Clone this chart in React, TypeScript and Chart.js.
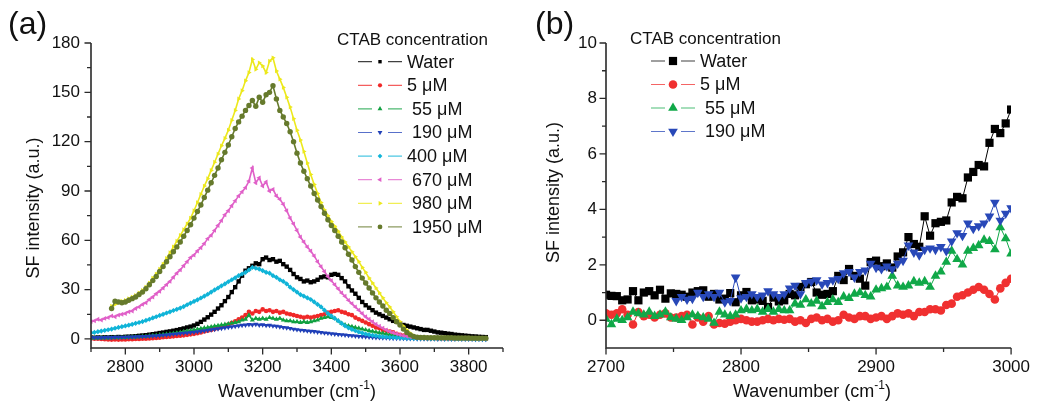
import React, { useEffect, useRef } from "react";
import { Chart, registerables } from "chart.js";

Chart.register(...registerables);

const FONT = '"Liberation Sans", Arial, Helvetica, sans-serif';

// ---------------- Panel (a) data ----------------
const waveA = [
  2700, 2710, 2720, 2730, 2740, 2750, 2760, 2770, 2780, 2790,
  2800, 2810, 2820, 2830, 2840, 2850, 2860, 2870, 2880, 2890,
  2900, 2910, 2920, 2930, 2940, 2950, 2960, 2970, 2980, 2990,
  3000, 3010, 3020, 3030, 3040, 3050, 3060, 3070, 3080, 3090,
  3100, 3110, 3120, 3130, 3140, 3150, 3160, 3170, 3180, 3190,
  3200, 3210, 3220, 3230, 3240, 3250, 3260, 3270, 3280, 3290,
  3300, 3310, 3320, 3330, 3340, 3350, 3360, 3370, 3380, 3390,
  3400, 3410, 3420, 3430, 3440, 3450, 3460, 3470, 3480, 3490,
  3500, 3510, 3520, 3530, 3540, 3550, 3560, 3570, 3580, 3590,
  3600, 3610, 3620, 3630, 3640, 3650, 3660, 3670, 3680, 3690,
  3700, 3710, 3720, 3730, 3740, 3750, 3760, 3770, 3780, 3790,
  3800, 3810, 3820, 3830, 3840, 3850,
];

const waterA = [
  0.8, 0.7, 0.9, 0.8, 1.0, 0.9, 1.1, 1.0, 1.2, 1.1,
  1.3, 1.4, 1.5, 1.7, 1.9, 2.1, 2.3, 2.6, 2.9, 3.2,
  3.6, 3.9, 4.3, 4.6, 5.0, 5.4, 5.9, 6.4, 7.0, 7.5,
  8.2, 9.2, 10.4, 11.8, 13.2, 14.8, 16.5, 18.5, 20.5, 23.0,
  25.5, 28.5, 31.5, 35.0, 38.5, 41.5, 43.0, 44.5, 46.0, 45.5,
  48.5, 49.5, 48.0, 48.5, 47.0, 47.5, 45.5, 44.0, 42.0, 39.5,
  37.5, 36.5, 35.0, 35.5, 34.5, 35.0, 36.0, 37.5, 38.0, 37.5,
  39.0, 39.5, 39.0, 37.0, 35.0, 32.0, 29.5, 27.5, 25.0, 22.5,
  20.5, 19.0, 17.5, 16.0, 15.0, 14.0, 13.0, 12.0, 11.0, 10.5,
  9.5, 8.5, 8.0, 7.5, 7.0, 6.5, 6.0, 5.5, 5.5, 5.0,
  4.5, 4.0, 3.8, 3.5, 3.2, 3.0, 2.6, 2.4, 2.2, 2.0,
  1.8, 1.6, 1.5, 1.3, 1.2, 1.1,
];

const c5A = [
  0.3, 0.2, 0.1, 0.0, -0.2, -0.3, -0.4, -0.3, -0.4, -0.3,
  -0.3, -0.2, -0.2, 0.0, 0.0, 0.1, 0.2, 0.3, 0.5, 0.6,
  0.8, 1.0, 1.2, 1.4, 1.6, 1.8, 2.0, 2.2, 2.5, 2.8,
  3.1, 3.5, 4.0, 4.5, 5.0, 5.5, 6.0, 6.6, 7.2, 8.0,
  8.8, 9.8, 10.8, 12.0, 13.0, 14.5, 16.5, 15.5, 17.0, 16.5,
  18.0, 17.0, 17.5, 16.5, 17.0, 16.0, 16.5, 15.5, 15.0, 14.5,
  14.0, 13.5, 13.0, 13.5, 13.0, 13.5, 14.0, 14.5, 15.0, 16.0,
  16.5, 17.0, 17.5, 16.5, 16.0, 15.0, 14.5, 13.0, 12.0, 11.0,
  10.0, 9.0, 8.0, 7.0, 6.5, 5.5, 5.0, 4.5, 4.0, 3.2,
  2.6, 2.0, 1.6, 1.2, 1.0, 0.8, 0.6, 0.5, 0.5, 0.4,
  0.4, 0.3, 0.3, 0.3, 0.2, 0.2, 0.2, 0.2, 0.1, 0.1,
  0.1, 0.1, 0.1, 0.0, 0.0, 0.0,
];

const c55A = [
  0.5, 0.6, 0.5, 0.6, 0.7, 0.6, 0.7, 0.8, 0.7, 0.8,
  0.9, 1.0, 1.1, 1.2, 1.3, 1.5, 1.6, 1.8, 2.0, 2.2,
  2.4, 2.6, 2.9, 3.1, 3.4, 3.7, 4.0, 4.4, 4.7, 5.1,
  5.5, 5.9, 6.3, 6.7, 7.0, 7.4, 7.8, 8.1, 8.5, 8.8,
  9.2, 9.6, 10.0, 10.4, 11.5, 12.0, 14.5, 11.5, 12.5, 12.0,
  12.5, 12.0, 13.0, 12.5, 12.0, 12.5, 11.5, 11.0, 11.0, 10.5,
  10.5, 10.0, 10.5, 10.0, 10.5, 11.0, 11.5, 12.5, 13.0, 13.5,
  13.0, 12.5, 11.0, 9.5, 8.5, 8.0, 7.5, 7.0, 6.5, 6.0,
  5.5, 5.0, 4.6, 4.2, 3.8, 3.5, 3.0, 2.6, 2.2, 1.9,
  1.6, 1.3, 1.1, 0.9, 0.7, 0.6, 0.5, 0.4, 0.4, 0.3,
  0.3, 0.3, 0.2, 0.2, 0.2, 0.2, 0.1, 0.1, 0.1, 0.1,
  0.1, 0.1, 0.0, 0.0, 0.0, 0.0,
];

const c190A = [
  0.8, 0.8, 0.9, 0.8, 0.9, 1.0, 0.9, 1.0, 1.1, 1.0,
  1.1, 1.2, 1.2, 1.3, 1.4, 1.5, 1.6, 1.7, 1.8, 1.9,
  2.1, 2.3, 2.5, 2.7, 2.9, 3.1, 3.3, 3.5, 3.7, 3.9,
  4.1, 4.4, 4.7, 5.0, 5.3, 5.6, 5.9, 6.2, 6.5, 6.8,
  7.1, 7.4, 7.7, 8.0, 8.3, 8.5, 8.8, 8.6, 8.9, 8.5,
  8.6, 8.2, 8.3, 7.9, 7.7, 7.4, 7.0, 6.8, 6.4, 6.0,
  5.7, 5.4, 5.2, 4.9, 4.7, 4.5, 4.2, 4.0, 3.7, 3.5,
  3.2, 3.0, 2.8, 2.6, 2.4, 2.2, 2.0, 1.8, 1.6, 1.5,
  1.3, 1.2, 1.0, 0.9, 0.8, 0.7, 0.6, 0.5, 0.4, 0.4,
  0.3, 0.3, 0.2, 0.2, 0.2, 0.1, 0.1, 0.1, 0.0, 0.0,
  0.0, -0.1, 0.0, -0.1, 0.0, -0.1, -0.1, 0.0, -0.1, -0.1,
  -0.1, -0.1, -0.2, -0.1, -0.2, -0.2,
];

const c400A = [
  3.8, 4.0, 4.4, 4.8, 5.2, 5.6, 6.0, 6.5, 7.0, 7.5,
  7.9, 8.4, 8.9, 9.5, 10.0, 10.6, 11.3, 12.0, 12.8, 13.5,
  14.3, 15.0, 15.8, 16.5, 17.3, 18.0, 18.8, 19.7, 20.8, 21.8,
  22.8, 23.8, 24.9, 26.0, 27.2, 28.5, 29.8, 31.0, 32.3, 33.5,
  34.8, 36.0, 37.2, 38.5, 39.5, 40.5, 42.0, 43.5, 43.0, 42.5,
  41.5, 40.5, 40.0, 38.5, 37.5, 36.0, 35.0, 33.5, 31.5, 30.0,
  28.5, 27.0, 26.0, 25.0, 24.0, 22.5, 21.0, 19.5, 17.5, 15.5,
  14.0, 12.5, 11.0, 9.5, 8.0, 6.8, 5.8, 5.0, 4.2, 3.6,
  3.0, 2.6, 2.2, 1.9, 1.6, 1.4, 1.2, 1.0, 0.9, 0.8,
  0.7, 0.6, 0.5, 0.5, 0.4, 0.4, 0.3, 0.3, 0.3, 0.2,
  0.2, 0.2, 0.2, 0.1, 0.1, 0.1, 0.1, 0.1, 0.0, 0.0,
  0.0, 0.0, -0.1, -0.1, -0.1, -0.1,
];

const c670A = [
  10.5, 11.0, 12.0, 11.5, 12.5, 13.0, 14.0, 13.5, 14.5, 15.0,
  15.5, 16.5, 17.0, 18.5, 19.5, 21.0, 22.0, 24.0, 25.5, 27.5,
  29.0, 31.0, 33.0, 35.0, 37.5, 40.0, 42.0, 44.5, 47.0, 49.5,
  51.0, 53.5, 55.5, 58.0, 61.0, 63.0, 66.0, 69.0, 72.0, 75.5,
  78.0, 81.0, 84.0, 87.0, 89.5, 92.0, 96.0, 104.0, 95.0, 98.0,
  93.0, 95.5, 90.0, 91.0, 87.0, 85.0, 82.0, 78.0, 73.5, 70.0,
  66.0, 62.0, 59.0, 56.0, 53.5, 50.5, 47.0, 44.0, 41.0, 38.0,
  35.5, 33.0, 30.5, 28.0, 26.0, 23.5, 21.5, 19.5, 17.5, 15.5,
  13.5, 12.0, 10.5, 9.0, 7.8, 6.6, 5.5, 4.6, 3.8, 3.1,
  2.5, 2.0, 1.6, 1.3, 1.1, 1.0, 0.9, 0.8, 0.8, 0.7,
  0.7, 0.6, 0.6, 0.6, 0.5, 0.5, 0.5, 0.5, 0.4, 0.4,
  0.4, 0.4, 0.3, 0.3, 0.3, 0.3,
];

const c980A = [
  null, null, null, null, null, null, 20.0, 21.0, 22.0, 23.0,
  23.5, 24.5, 25.5, 26.5, 28.0, 29.5, 31.5, 34.0, 37.0, 39.5,
  42.5, 45.5, 49.0, 52.5, 56.0, 59.5, 63.0, 66.5, 70.0, 73.5,
  78.0, 83.0, 88.0, 93.0, 97.5, 102.5, 107.5, 112.5, 117.5, 122.0,
  127.0, 133.0, 139.0, 146.0, 151.0, 157.0, 162.0, 170.0, 164.0, 168.0,
  166.0, 162.0, 169.0, 171.0, 163.0, 158.0, 153.0, 147.0, 141.0, 134.0,
  127.0, 121.0, 114.0, 107.0, 100.0, 94.0, 88.5, 83.0, 78.5, 75.0,
  71.5, 68.5, 65.5, 62.0, 59.0, 56.0, 53.0, 50.0, 47.0, 43.5,
  40.5, 37.0, 34.0, 31.0, 28.0, 25.0, 22.0, 19.5, 16.5, 13.5,
  10.5, 7.8, 5.5, 3.5, 2.0, 1.2, 1.0, 0.9, 0.8, 0.8,
  0.8, 0.7, 0.7, 0.7, 0.6, 0.6, 0.6, 0.6, 0.5, 0.5,
  0.5, 0.5, 0.5, 0.4, 0.4, 0.4,
];

const c1950A = [
  null, null, null, null, null, null, 18.5, 23.0, 22.5, 22.0,
  22.5, 23.5, 24.5, 25.5, 27.0, 28.5, 30.5, 33.0, 35.5, 38.0,
  41.0, 44.0, 47.0, 50.0, 53.0, 56.0, 59.0, 62.5, 66.0, 69.5,
  73.5, 77.5, 81.5, 86.0, 90.5, 95.0, 99.5, 104.0, 109.0, 113.5,
  118.0, 123.0, 128.0, 132.0, 135.5, 139.0, 142.0, 145.0, 141.5, 147.0,
  144.0, 148.5, 150.0, 154.0, 146.0, 139.0, 135.0, 131.0, 126.0, 120.0,
  113.0, 107.0, 102.0, 97.5, 93.0, 88.5, 84.5, 80.5, 76.5, 72.5,
  69.0, 66.0, 62.5, 59.0, 55.5, 51.5, 48.0, 44.0, 40.5, 37.0,
  34.0, 31.0, 28.0, 25.0, 22.5, 20.0, 17.5, 15.5, 13.0, 10.5,
  8.5, 6.0, 4.0, 2.5, 1.5, 1.0, 0.9, 0.9, 0.8, 0.8,
  0.8, 0.8, 0.7, 0.7, 0.7, 0.7, 0.6, 0.6, 0.6, 0.6,
  0.6, 0.5, 0.5, 0.5, 0.5, 0.5,
];

const labelsA = ["Water", "5 μM", " 55 μM", " 190 μM", "400 μM", " 670 μM", " 980 μM", " 1950 μM"];
const colorsA = ["#000000", "#F02828", "#10A040", "#2040B8", "#10B4D8", "#E060C8", "#ECE81C", "#667A2C"];
const stylesA = ["rect", "circle", "triangle", "triangle", "rectRot", "triangle", "triangle", "circle"];
const rotationsA = [0, 0, 0, 180, 0, -90, 90, 0];
const radiiA = [3.1, 2.3, 2.9, 2.9, 2.6, 2.8, 2.7, 2.7];
const legendRadiiA = [2.4, 2.1, 2.8, 2.8, 2.4, 2.8, 2.8, 2.4];

const xTicksA = [2800, 3000, 3200, 3400, 3600, 3800];
const xMinorA = [2700, 2900, 3100, 3300, 3500, 3700, 3900];
const yTicksA = [0, 30, 60, 90, 120, 150, 180];
const yMinorA = [15, 45, 75, 105, 135, 165];

// ---------------- Panel (b) data ----------------
const waveB = [
  2700, 2704, 2708, 2712, 2716, 2720, 2724, 2728, 2732, 2736,
  2740, 2744, 2748, 2752, 2756, 2760, 2764, 2768, 2772, 2776,
  2780, 2784, 2788, 2792, 2796, 2800, 2804, 2808, 2812, 2816,
  2820, 2824, 2828, 2832, 2836, 2840, 2844, 2848, 2852, 2856,
  2860, 2864, 2868, 2872, 2876, 2880, 2884, 2888, 2892, 2896,
  2900, 2904, 2908, 2912, 2916, 2920, 2924, 2928, 2932, 2936,
  2940, 2944, 2948, 2952, 2956, 2960, 2964, 2968, 2972, 2976,
  2980, 2984, 2988, 2992, 2996, 3000,
];

const waterB = [
  0.92, 0.88, 0.87, 0.72, 0.75, 1.05, 0.72, 1.0, 1.05, 0.9,
  1.1, 0.78, 0.97, 0.95, 0.92, 0.85, 1.0, 1.05, 1.08, 0.85,
  0.95, 0.75, 0.78, 0.98, 0.65, 0.9, 1.02, 0.72, 0.75, 0.7,
  0.48, 0.82, 0.68, 0.72, 0.95, 0.9, 1.2, 1.3, 1.38, 1.0,
  0.92, 0.95, 1.05, 1.6, 1.45, 1.85, 1.6, 1.5, 1.25, 2.1,
  2.15, 1.95, 2.05, 1.9, 2.3, 2.45, 3.0, 2.75, 2.65, 3.75,
  3.05, 3.5, 3.55, 3.6, 4.25, 4.45, 4.4, 5.15, 5.35, 5.6,
  5.55, 6.4, 6.9, 6.75, 7.1, 7.6,
];

const c5B = [
  0.25, 0.2, 0.25, 0.4, 0.2, -0.15, 0.3, 0.15, 0.2, 0.1,
  0.2, 0.25, 0.1, 0.1, 0.15, 0.2, -0.15, 0.1, -0.05, 0.15,
  -0.15, -0.1, -0.12, -0.05, 0.0, 0.05, 0.0, -0.05, -0.05, 0.0,
  0.05, 0.0, 0.05, 0.02, 0.05, -0.05, 0.0, -0.1, 0.05, 0.1,
  0.0, 0.05, -0.05, 0.0, 0.2, 0.1, 0.05, 0.15, 0.15, 0.05,
  0.1, 0.15, 0.05, 0.15, 0.25, 0.2, 0.25, 0.15, 0.3, 0.3,
  0.4, 0.4, 0.35, 0.55, 0.6, 0.85, 0.9, 1.0, 1.1, 1.2,
  1.1, 0.95, 0.75, 1.15, 1.35, 1.5,
];

const c55B = [
  0.05, -0.15, 0.05, 0.0, 0.1, 0.3, 0.25, 0.2, 0.3, 0.15,
  0.2, 0.3, 0.1, 0.05, 0.0, 0.1, 0.2, 0.15, 0.1, 0.05,
  -0.1, 0.3, 0.2, 0.15, 0.2, 0.35, 0.4, 0.35, 0.4, 0.3,
  0.4, 0.3, 0.4, 0.35, 0.35, 0.6, 0.55, 0.75, 0.6, 0.7,
  0.5, 0.65, 0.75, 0.65, 0.85, 0.8, 0.95, 1.0, 0.9, 0.85,
  1.1, 1.15, 1.2, 1.6, 1.25, 1.2, 1.25, 1.4, 1.35, 1.4,
  1.2, 1.6, 1.75, 2.1, 2.5, 2.2, 2.0, 2.5, 2.6, 2.7,
  2.9, 2.85, 2.55, 3.35, 2.95, 2.4,
];

const c190B = [
  null, null, null, null, null, null, null, null, null, null,
  null, null, null, 0.7, 0.85, 0.75, 0.78, 1.0, 0.85, 0.95,
  0.85, 1.0, 0.65, 0.7, 1.55, 0.8, 0.85, 0.95, 0.85, 0.9,
  1.05, 0.95, 0.85, 0.95, 1.15, 1.25, 0.95, 1.35, 1.4, 1.45,
  1.3, 1.35, 1.45, 1.5, 1.7, 1.75, 1.55, 1.75, 1.8, 2.05,
  1.9, 1.85, 1.95, 1.85, 2.05, 2.15, 2.7, 2.45, 2.35, 2.55,
  2.6, 2.55, 2.65, 2.5, 2.85, 3.15, 3.05, 3.5, 3.3, 3.4,
  3.5, 3.75, 4.25, 3.6, 3.85, 4.05,
];

const labelsB = ["Water", "5 μM", " 55 μM", " 190 μM"];
const colorsB = ["#000000", "#F03030", "#10A848", "#2848B8"];
const stylesB = ["rect", "circle", "triangle", "triangle"];
const rotationsB = [0, 0, 0, 180];
const radiiB = [5.8, 4.3, 5.6, 5.6];
const legendRadiiB = [5.8, 4.3, 5.6, 5.6];

const xTicksB = [2700, 2800, 2900, 3000];
const xMinorB = [2750, 2850, 2950];
const yTicksB = [0, 2, 4, 6, 8, 10];
const yMinorB = [1, 3, 5, 7, 9];

// ---------------- helpers ----------------
function toPoints(xs: number[], ys: (number | null)[]) {
  const out: { x: number; y: number }[] = [];
  xs.forEach((x, i) => {
    const v = ys[i];
    if (v !== null && v !== undefined) out.push({ x, y: v });
  });
  return out;
}

function drawMarker(ctx: CanvasRenderingContext2D, style: string, rot: number, x: number, y: number, r: number, color: string) {
  ctx.fillStyle = color;
  ctx.beginPath();
  if (style === "rect") {
    const s = r * Math.SQRT1_2;
    ctx.rect(x - s, y - s, 2 * s, 2 * s);
  } else if (style === "circle") {
    ctx.arc(x, y, r, 0, Math.PI * 2);
  } else if (style === "rectRot") {
    ctx.moveTo(x, y - r);
    ctx.lineTo(x + r, y);
    ctx.lineTo(x, y + r);
    ctx.lineTo(x - r, y);
  } else {
    let a = (rot * Math.PI) / 180;
    for (let k = 0; k < 3; k++) {
      const px = x + Math.sin(a) * r;
      const py = y - Math.cos(a) * r;
      if (k === 0) ctx.moveTo(px, py);
      else ctx.lineTo(px, py);
      a += (2 * Math.PI) / 3;
    }
  }
  ctx.closePath();
  ctx.fill();
}

interface PanelCfg {
  panelLabel: string;
  panelX: number;
  panelY: number;
  xTitleX: number;
  xTitleY: number;
  yTitleX: number;
  yTitleY: number;
  xMajor: number[];
  xMinor: number[];
  yMajor: number[];
  yMinor: number[];
  legendTitleX: number;
  legendTitleY: number;
  legendLineX: number;
  legendTextX: number;
  legendRow0: number;
  legendRowStep: number;
  labels: string[];
  colors: string[];
  styles: string[];
  rotations: number[];
  radii: number[];
  legendRadii: number[];
}

function makeDecor(cfg: PanelCfg) {
  return {
    id: "decor",
    afterDraw(chart: any) {
      const ctx: CanvasRenderingContext2D = chart.ctx;
      const { left, right, top, bottom } = chart.chartArea;
      const xs = chart.scales.x;
      const ys = chart.scales.y;
      ctx.save();
      // axes
      ctx.strokeStyle = "#2a2a2a";
      ctx.lineWidth = 1.6;
      ctx.beginPath();
      ctx.moveTo(left, top);
      ctx.lineTo(left, bottom);
      ctx.lineTo(right, bottom);
      ctx.stroke();
      ctx.lineWidth = 1.3;
      ctx.beginPath();
      cfg.xMajor.forEach((v) => {
        const p = xs.getPixelForValue(v);
        ctx.moveTo(p, bottom);
        ctx.lineTo(p, bottom + 6.5);
      });
      cfg.xMinor.forEach((v) => {
        const p = xs.getPixelForValue(v);
        ctx.moveTo(p, bottom);
        ctx.lineTo(p, bottom + 4);
      });
      cfg.yMajor.forEach((v) => {
        const p = ys.getPixelForValue(v);
        ctx.moveTo(left, p);
        ctx.lineTo(left - 6.5, p);
      });
      cfg.yMinor.forEach((v) => {
        const p = ys.getPixelForValue(v);
        ctx.moveTo(left, p);
        ctx.lineTo(left - 4, p);
      });
      ctx.stroke();

      ctx.fillStyle = "#111";
      // x title with superscript
      const f1 = `18px ${FONT}`;
      const f2 = `12px ${FONT}`;
      ctx.font = f1;
      const t1 = "Wavenumber (cm";
      const t3 = ")";
      const w1 = ctx.measureText(t1).width;
      const w3 = ctx.measureText(t3).width;
      ctx.font = f2;
      const w2 = ctx.measureText("-1").width;
      let x = cfg.xTitleX - (w1 + w2 + w3) / 2;
      ctx.textAlign = "left";
      ctx.textBaseline = "alphabetic";
      ctx.font = f1;
      ctx.fillText(t1, x, cfg.xTitleY);
      x += w1;
      ctx.font = f2;
      ctx.fillText("-1", x, cfg.xTitleY - 8);
      x += w2;
      ctx.font = f1;
      ctx.fillText(t3, x, cfg.xTitleY);

      // y title
      ctx.save();
      ctx.translate(cfg.yTitleX, cfg.yTitleY);
      ctx.rotate(-Math.PI / 2);
      ctx.textAlign = "center";
      ctx.textBaseline = "alphabetic";
      ctx.font = f1;
      ctx.fillText("SF intensity (a.u.)", 0, 0);
      ctx.restore();

      // panel label
      ctx.font = `32px ${FONT}`;
      ctx.textAlign = "left";
      ctx.fillText(cfg.panelLabel, cfg.panelX, cfg.panelY);

      // legend
      ctx.font = `17px ${FONT}`;
      ctx.fillText("CTAB concentration", cfg.legendTitleX, cfg.legendTitleY);
      ctx.font = `18px ${FONT}`;
      ctx.textBaseline = "middle";
      cfg.labels.forEach((lab, i) => {
        const cy = cfg.legendRow0 + i * cfg.legendRowStep;
        const lx = cfg.legendLineX;
        ctx.strokeStyle = cfg.colors[i];
        ctx.globalAlpha = 0.75;
        ctx.lineWidth = 1.2;
        ctx.beginPath();
        ctx.moveTo(lx, cy);
        ctx.lineTo(lx + 14, cy);
        ctx.moveTo(lx + 30, cy);
        ctx.lineTo(lx + 44, cy);
        ctx.stroke();
        ctx.globalAlpha = 1;
        drawMarker(ctx, cfg.styles[i], cfg.rotations[i], lx + 22, cy, cfg.legendRadii[i], cfg.colors[i]);
        ctx.fillStyle = "#111";
        ctx.fillText(lab, cfg.legendTextX, cy + 1);
      });
      ctx.restore();
    },
  };
}

function buildDatasets(xs: number[], series: (number | null)[][], cfg: PanelCfg, lineWidth: number) {
  const n = series.length;
  return series.map((ys, i) => ({
    label: cfg.labels[i],
    data: toPoints(xs, ys),
    showLine: true,
    borderColor: cfg.colors[i],
    borderWidth: lineWidth,
    backgroundColor: cfg.colors[i],
    pointBackgroundColor: cfg.colors[i],
    pointBorderColor: cfg.colors[i],
    pointBorderWidth: 0,
    pointStyle: cfg.styles[i],
    pointRotation: cfg.rotations[i],
    pointRadius: cfg.radii[i],
    pointHoverRadius: cfg.radii[i],
    tension: 0,
    order: n - i,
  }));
}

function makeOptions(p: {
  xmin: number; xmax: number; ymin: number; ymax: number;
  xTicks: number[]; yTicks: number[];
  yWidth: number; padRight: number; yPad: number;
}) {
  const tickFont = { family: FONT, size: 17 };
  return {
    responsive: false,
    animation: false,
    events: [],
    layout: { padding: { left: 0, right: p.padRight, top: 43, bottom: 0 } },
    plugins: { legend: { display: false }, tooltip: { enabled: false }, title: { display: false } },
    scales: {
      x: {
        type: "linear",
        min: p.xmin,
        max: p.xmax,
        grid: { display: false, drawTicks: false },
        border: { display: false },
        afterBuildTicks: (s: any) => {
          s.ticks = p.xTicks.map((v) => ({ value: v }));
        },
        afterFit: (s: any) => {
          s.height = 56;
        },
        ticks: { color: "#111", font: tickFont, padding: 9, autoSkip: false, maxRotation: 0, callback: (v: any) => String(v) },
      },
      y: {
        type: "linear",
        min: p.ymin,
        max: p.ymax,
        grid: { display: false, drawTicks: false },
        border: { display: false },
        afterBuildTicks: (s: any) => {
          s.ticks = p.yTicks.map((v) => ({ value: v }));
        },
        afterFit: (s: any) => {
          s.width = p.yWidth;
        },
        ticks: { color: "#111", font: tickFont, padding: p.yPad, autoSkip: false, callback: (v: any) => String(v) },
      },
    },
  };
}

const cfgA: PanelCfg = {
  panelLabel: "(a)", panelX: 8, panelY: 34,
  xTitleX: 297, xTitleY: 397, yTitleX: 38.5, yTitleY: 208,
  xMajor: xTicksA, xMinor: xMinorA, yMajor: yTicksA, yMinor: yMinorA,
  legendTitleX: 337, legendTitleY: 44.5, legendLineX: 358, legendTextX: 407,
  legendRow0: 61.7, legendRowStep: 23.6,
  labels: labelsA, colors: colorsA, styles: stylesA, rotations: rotationsA, radii: radiiA, legendRadii: legendRadiiA,
};

const cfgB: PanelCfg = {
  panelLabel: "(b)", panelX: 15, panelY: 34,
  xTitleX: 292, xTitleY: 397, yTitleX: 38.5, yTitleY: 192.5,
  xMajor: xTicksB, xMinor: xMinorB, yMajor: yTicksB, yMinor: yMinorB,
  legendTitleX: 110, legendTitleY: 44, legendLineX: 131, legendTextX: 180,
  legendRow0: 61, legendRowStep: 23.5,
  labels: labelsB, colors: colorsB, styles: stylesB, rotations: rotationsB, radii: radiiB, legendRadii: legendRadiiB,
};

export default function App() {
  const refA = useRef<HTMLCanvasElement | null>(null);
  const refB = useRef<HTMLCanvasElement | null>(null);

  useEffect(() => {
    if (!refA.current || !refB.current) return;
    const chartA = new Chart(refA.current, {
      type: "scatter",
      data: {
        datasets: buildDatasets(waveA, [waterA, c5A, c55A, c190A, c400A, c670A, c980A, c1950A], cfgA, 1.6) as any,
      },
      options: makeOptions({
        xmin: 2700, xmax: 3900, ymin: -5.5, ymax: 180,
        xTicks: xTicksA, yTicks: yTicksA, yWidth: 91, padRight: 17, yPad: 11,
      }) as any,
      plugins: [makeDecor(cfgA)],
    });
    const chartB = new Chart(refB.current, {
      type: "scatter",
      data: {
        datasets: buildDatasets(waveB, [waterB, c5B, c55B, c190B], cfgB, 1) as any,
      },
      options: makeOptions({
        xmin: 2700, xmax: 3000, ymin: -1, ymax: 10,
        xTicks: xTicksB, yTicks: yTicksB, yWidth: 86, padRight: 20, yPad: 9,
      }) as any,
      plugins: [makeDecor(cfgB)],
    });
    return () => {
      chartA.destroy();
      chartB.destroy();
    };
  }, []);

  return (
    <div style={{ position: "fixed", left: 0, top: 0, width: 1039, height: 404, background: "#fff", overflow: "hidden" }}>
      <canvas ref={refA} width={520} height={404} style={{ position: "absolute", left: 0, top: 0, width: 520, height: 404 }} />
      <canvas ref={refB} width={519} height={404} style={{ position: "absolute", left: 520, top: 0, width: 519, height: 404 }} />
    </div>
  );
}
